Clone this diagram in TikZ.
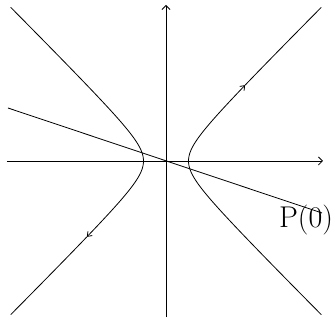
\documentclass[tikz,border=0pt]{standalone}
\usepackage{tikz}
\usetikzlibrary{arrows.meta}

\begin{document}
\begin{tikzpicture}[
  x=1pt, y=1pt,
  axis/.style={
    line width=0.8pt,
    -{Straight Barb[length=4pt,width=8pt]},
  },
  branch/.style={
    line width=0.8pt,
    smooth,
    samples=60,
    variable=\t,
  },
  flow/.style={-{Straight Barb[length=4pt,width=6pt]}},
  ray/.style={line width=0.8pt},
  biglabel/.style={font=\fontsize{30}{32}\selectfont, inner sep=0pt},
]
\useasboundingbox (-166,-160) rectangle (169,161);

% ── Axes ──
\coordinate (xs) at (-159,0);
\coordinate (xe) at (157,0);
\coordinate (ys) at (0,-156);
\coordinate (ye) at (0,156);
\draw[axis] (xs) -- (xe);
\draw[axis] (ys) -- (ye);

% ── Right branch ──
\draw[branch, flow] plot[domain=-2.62:1.93] ({22.5*cosh(\t)},{22.5*sinh(\t)});
\draw[branch] plot[domain=1.93:2.62] ({22.5*cosh(\t)},{22.5*sinh(\t)});

% ── Left branch ──
\draw[branch, flow] plot[domain=2.62:-1.93] ({-22.5*cosh(\t)},{22.5*sinh(\t)});
\draw[branch] plot[domain=-1.93:-2.62] ({-22.5*cosh(\t)},{22.5*sinh(\t)});

% ── Line P(0) ──
\coordinate (ps) at (-158,53);
\coordinate (pe) at (156,-52);
\draw[ray] (ps) -- (pe);
\node[biglabel] (p0) at (140,-59) {P(0)};

\end{tikzpicture}
\end{document}
